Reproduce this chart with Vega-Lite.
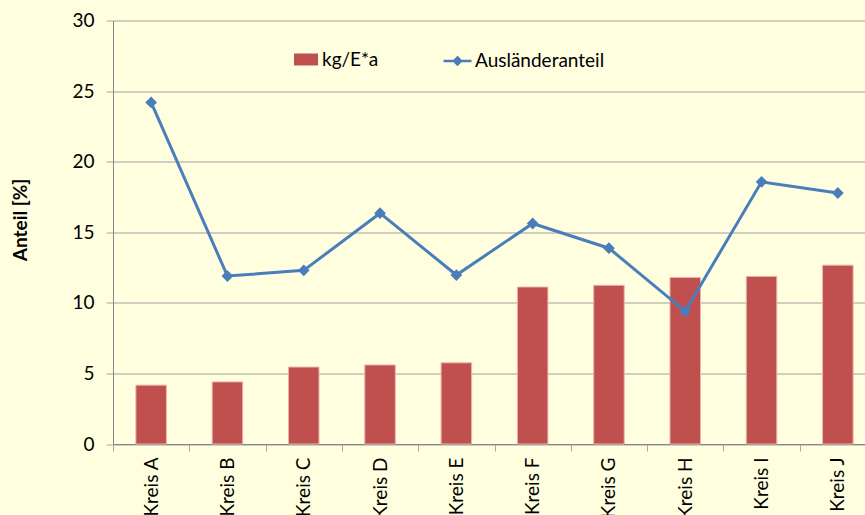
{
  "$schema": "https://vega.github.io/schema/vega-lite/v6.json",
  "autosize": {"type": "none"},
  "padding": {"left": 113, "top": 20.5, "right": 0, "bottom": 110},
  "width": 763,
  "height": 423.5,
  "background": "#FFFFE0",
  "config": {
    "font": "Lato",
    "view": {"stroke": null},
    "axis": {"labelFont": "Lato", "titleFont": "Lato", "labelColor": "#000", "titleColor": "#000"},
    "legend": {"padding": 0, "labelFont": "Lato", "labelColor": "#000", "labelFontSize": 19, "title": null}
  },
  "data": {
    "values": [
      {"kreis": "Kreis A", "kg": 4.17, "anteil": 24.2},
      {"kreis": "Kreis B", "kg": 4.4, "anteil": 11.9},
      {"kreis": "Kreis C", "kg": 5.45, "anteil": 12.3},
      {"kreis": "Kreis D", "kg": 5.6, "anteil": 16.35},
      {"kreis": "Kreis E", "kg": 5.75, "anteil": 11.97},
      {"kreis": "Kreis F", "kg": 11.12, "anteil": 15.62},
      {"kreis": "Kreis G", "kg": 11.24, "anteil": 13.87},
      {"kreis": "Kreis H", "kg": 11.8, "anteil": 9.4},
      {"kreis": "Kreis I", "kg": 11.87, "anteil": 18.57},
      {"kreis": "Kreis J", "kg": 12.67, "anteil": 17.78}
    ]
  },
  "encoding": {
    "x": {
      "field": "kreis",
      "type": "nominal",
      "sort": null,
      "scale": {"paddingInner": 0, "paddingOuter": 0},
      "axis": {
        "title": null,
        "labelAngle": -90,
        "labelAlign": "right",
        "labelBaseline": "middle",
        "labelFontSize": 19,
        "labelPadding": 6,
        "tickBand": "extent",
        "tickSize": 7,
        "tickColor": "#A6A6A6",
        "domainColor": "#868686",
        "grid": false
      }
    }
  },
  "layer": [
    {
      "mark": {"type": "bar", "width": {"band": 0.4}, "stroke": "#E8B4B0", "strokeWidth": 1},
      "encoding": {
        "y": {
          "field": "kg",
          "type": "quantitative",
          "scale": {"domain": [0, 30], "nice": false},
          "axis": {
            "title": "Anteil [%]",
            "titleFontSize": 19,
            "titleFontWeight": "bold",
            "titleX": -93,
            "titleY": 199,
            "titleAngle": -90,
            "titleAlign": "center",
            "titleBaseline": "middle",
            "values": [0, 5, 10, 15, 20, 25, 30],
            "labelFontSize": 19,
            "labelPadding": 12,
            "tickSize": 7,
            "tickColor": "#A6A6A6",
            "domainColor": "#868686",
            "grid": true,
            "gridColor": "#A0A0A0",
            "gridWidth": 1.2
          }
        },
        "fill": {
          "datum": "kg/E*a",
          "type": "nominal",
          "scale": {"domain": ["kg/E*a"], "range": ["#C0504D"]},
          "legend": {
            "orient": "none",
            "direction": "horizontal",
            "legendX": 181,
            "legendY": 27,
            "symbolType": "M-1,-0.5H1V0.5H-1Z",
            "symbolSize": 576,
            "symbolStrokeWidth": 0,
            "symbolOpacity": 1,
            "labelOffset": 4
          }
        }
      }
    },
    {
      "mark": {"type": "line", "strokeWidth": 3, "point": {"shape": "diamond", "size": 80, "filled": true, "color": "#4A7EBB"}},
      "encoding": {
        "y": {"field": "anteil", "type": "quantitative"},
        "stroke": {
          "datum": "Ausländeranteil",
          "type": "nominal",
          "scale": {"domain": ["Ausländeranteil"], "range": ["#4A7EBB"]},
          "legend": {
            "orient": "none",
            "direction": "horizontal",
            "legendX": 329,
            "legendY": 25,
            "symbolType": "M-1,0H1M0,-0.25L0.25,0L0,0.25L-0.25,0Z",
            "symbolSize": 784,
            "symbolStrokeWidth": 2.5,
            "symbolFillColor": "#4A7EBB",
            "symbolOpacity": 1,
            "labelOffset": 2
          }
        }
      }
    }
  ]
}
